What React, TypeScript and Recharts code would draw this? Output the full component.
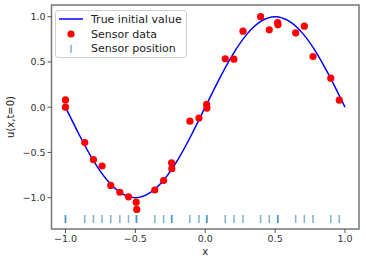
import {
  ComposedChart,
  Line,
  Scatter,
  XAxis,
  YAxis,
  Legend,
  Label,
  ReferenceArea,
} from "recharts";

// true initial value u(x, 0)
const curveX = [-1, -0.9, -0.8, -0.7, -0.6, -0.5, -0.4, -0.3, -0.2, -0.1, 0, 0.1, 0.2, 0.3, 0.4, 0.5, 0.6, 0.7, 0.8, 0.9, 1];
const curveU = [0, -0.31, -0.59, -0.81, -0.95, -1, -0.95, -0.81, -0.59, -0.31, 0, 0.31, 0.59, 0.81, 0.95, 1, 0.95, 0.81, 0.59, 0.31, 0];

// noisy sensor readings
const sensorX = [
  -1.0, -1.0, -0.862, -0.8, -0.738, -0.676, -0.611, -0.549, -0.494, -0.49,
  -0.361, -0.298, -0.239, -0.241, -0.11, -0.045, 0.012, 0.01, 0.143, 0.205,
  0.27, 0.396, 0.458, 0.518, 0.52, 0.647, 0.709, 0.771, 0.898, 0.959,
];
const sensorU = [
  0.08, 0.0, -0.39, -0.58, -0.65, -0.865, -0.94, -0.99, -1.05, -1.13,
  -0.915, -0.81, -0.68, -0.615, -0.155, -0.12, -0.01, 0.03, 0.535, 0.53,
  0.84, 1.0, 0.855, 0.935, 0.91, 0.82, 0.895, 0.56, 0.32, 0.077,
];
// height at which sensor positions are marked
const markU = -1.235;

const xTicks = [-1, -0.5, 0, 0.5, 1];
const yTicks = [-1, -0.5, 0, 0.5, 1];

const curveData = curveX.map((x, i) => ({ x, u: curveU[i] }));
const sensorData = sensorX.map((x, i) => ({ x, u: sensorU[i] }));
const markData = sensorX.map((x) => ({ x, u: markU }));

const FONT = "'DejaVu Sans', sans-serif";
const fmt = (v: number) => v.toFixed(1).replace("-", "\u2212");

const MarkShape = (props: any) => (
  <line
    x1={props.cx}
    x2={props.cx}
    y1={props.cy - 4}
    y2={props.cy + 4}
    stroke="#1f77b4"
    strokeOpacity={0.55}
    strokeWidth={1.6}
  />
);

const DotShape = (props: any) => (
  <circle cx={props.cx} cy={props.cy} r={3.6} fill="#ff0000" />
);

const LegendBox = () => {
  const row = { display: "flex", alignItems: "center", height: 14.7 };
  const icon = { width: 24, height: 12, marginRight: 8 };
  return (
    <div
      style={{
        fontFamily: FONT,
        fontSize: 11,
        color: "#222",
        background: "rgba(255,255,255,0.85)",
        border: "1px solid #d0d0d0",
        borderRadius: 3,
        padding: "1px 0 1px 3px",
        boxSizing: "border-box",
        width: 132,
        lineHeight: 1,
        whiteSpace: "nowrap",
      }}
    >
      <div style={row}>
        <svg style={icon}>
          <line x1={0} x2={24} y1={6} y2={6} stroke="#0000ff" strokeWidth={1.5} />
        </svg>
        <span>True initial value</span>
      </div>
      <div style={row}>
        <svg style={icon}>
          <circle cx={12} cy={6} r={3.6} fill="#ff0000" />
        </svg>
        <span>Sensor data</span>
      </div>
      <div style={row}>
        <svg style={icon}>
          <line x1={12} x2={12} y1={2} y2={10} stroke="#1f77b4" strokeOpacity={0.55} strokeWidth={1.6} />
        </svg>
        <span>Sensor position</span>
      </div>
    </div>
  );
};

const YLabel = (props: any) => {
  const vb = props.viewBox;
  const cx = 10;
  const cy = vb.y + vb.height / 2;
  return (
    <text
      x={cx}
      y={cy}
      transform={`rotate(-90, ${cx}, ${cy})`}
      textAnchor="middle"
      dominantBaseline="central"
      fontFamily={FONT}
      fontSize={10}
      fill="#222"
    >
      u(x,t=0)
    </text>
  );
};

const XLabel = (props: any) => {
  const vb = props.viewBox;
  return (
    <text
      x={vb.x + vb.width / 2}
      y={251}
      textAnchor="middle"
      dominantBaseline="central"
      fontFamily={FONT}
      fontSize={10}
      fill="#222"
    >
      x
    </text>
  );
};

const tickStyle = { fill: "#333", fontSize: 9.5, fontFamily: FONT };

export default function App() {
  return (
    <div style={{ position: "fixed", left: 0, top: 0, background: "#fff" }}>
      <ComposedChart
        width={366}
        height={262}
        margin={{ top: 5, right: 7, left: 0, bottom: 0 }}
      >
        <XAxis
          dataKey="x"
          type="number"
          domain={[-1.1, 1.1]}
          ticks={xTicks}
          tickFormatter={fmt}
          tick={tickStyle}
          tickSize={4}
          tickMargin={2}
          height={33}
          axisLine={false}
          tickLine={{ stroke: "#555" }}
          allowDataOverflow
        >
          <Label content={XLabel} />
        </XAxis>
        <YAxis
          dataKey="u"
          type="number"
          domain={[-1.346, 1.129]}
          ticks={yTicks}
          tickFormatter={fmt}
          tick={tickStyle}
          tickSize={4}
          tickMargin={2}
          width={51.5}
          axisLine={false}
          tickLine={{ stroke: "#555" }}
          allowDataOverflow
        >
          <Label content={YLabel} />
        </YAxis>
        <Scatter
          data={markData}
          dataKey="u"
          shape={MarkShape}
          isAnimationActive={false}
        />
        <Line
          data={curveData}
          dataKey="u"
          type="natural"
          stroke="#0000ff"
          strokeWidth={1.5}
          dot={false}
          activeDot={false}
          isAnimationActive={false}
        />
        <Scatter
          data={sensorData}
          dataKey="u"
          shape={DotShape}
          isAnimationActive={false}
        />
        <ReferenceArea
          x1={-1.1}
          x2={1.1}
          y1={-1.346}
          y2={1.129}
          fill="none"
          stroke="#777"
          strokeWidth={1.5}
          ifOverflow="visible"
        />
        <Legend
          layout="vertical"
          align="center"
          verticalAlign="middle"
          wrapperStyle={{ left: 55, top: 10, width: 132 }}
          content={LegendBox}
        />
      </ComposedChart>
    </div>
  );
}
